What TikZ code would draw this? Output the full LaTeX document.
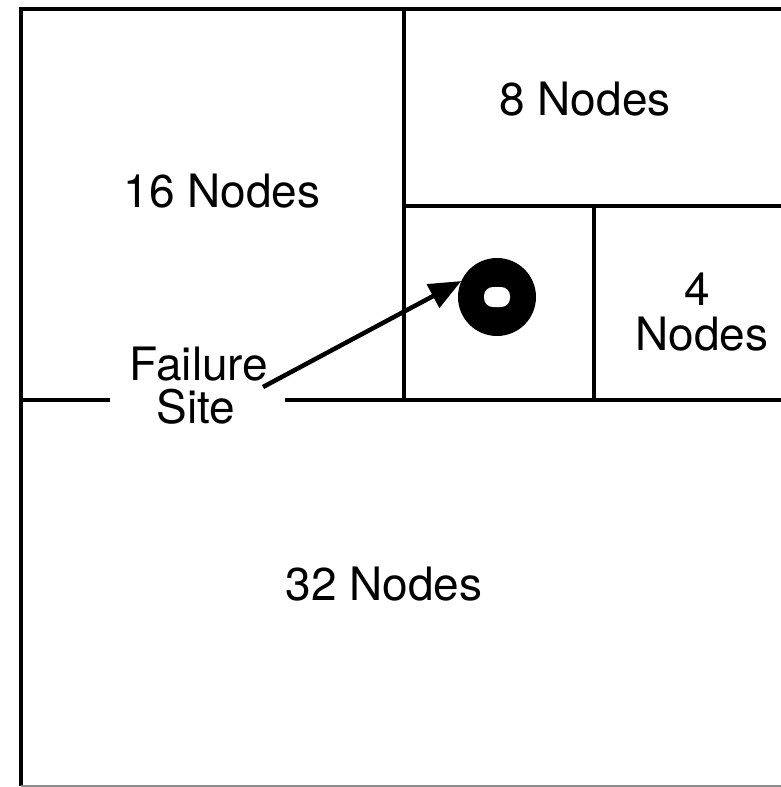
\documentclass[tikz,border=0pt]{standalone}
\usepackage{fontspec}
\setmainfont{TeX Gyre Heros}
\usetikzlibrary{arrows.meta}
\begin{document}
\begin{tikzpicture}[x=1pt,y=-1pt,font=\fontsize{46}{44}\selectfont]
\useasboundingbox(0,0)rectangle(781,787);
\draw[line width=4.5pt](781,9)--(21,9)--(21,786); %outer frame
\draw[line width=1.5pt,black!45](21,786)--(781,786); %bottom edge
\draw[line width=3.5pt](404,9)--(404,400); %16 nodes | rest
\draw[line width=3.5pt](404,206)--(781,206); %8 nodes
\draw[line width=3.5pt](594,206)--(594,400); %4 nodes
\draw[line width=3.5pt](21,400)--(110,400); %32 nodes, left part
\draw[line width=3.5pt](285,400)--(781,400); %32 nodes, right part
%failure site
\node[circle,fill=black,minimum size=78pt,inner sep=0pt](site)at(497,297){};
\node[fill=white,rounded corners=9pt,minimum width=26pt,minimum height=20pt,inner sep=0pt](hole)at(site.center){};
%labels
\node[anchor=base](n16)at(222,207){16 Nodes};
\node[anchor=base](n8)at(585,115){8 Nodes};
\node[anchor=base](n4a)at(697,305){4};
\node[anchor=base](n4b)at(702,350){Nodes};
\node[anchor=base](n32)at(384,600){32 Nodes};
\node[anchor=base](fail)at(199,380){Failure};
\node[anchor=base](sitetxt)at(196,423){Site};
\coordinate(tail)at(263,387);
\draw[line width=4.5pt,-{Triangle[length=32pt,width=26pt]}](tail)--(site.156);
\end{tikzpicture}
\end{document}
